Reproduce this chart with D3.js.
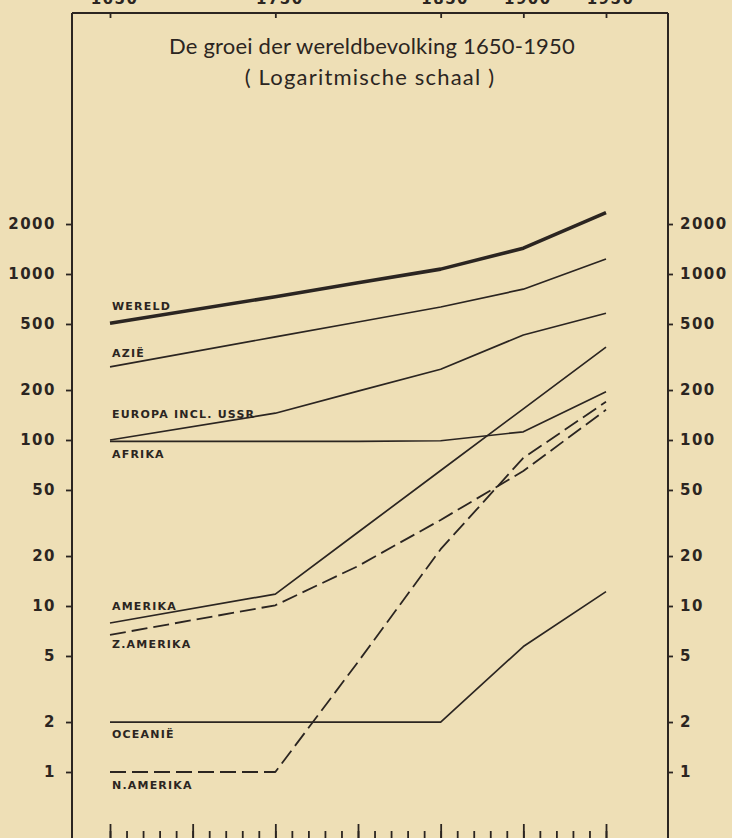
<!DOCTYPE html>
<html>
<head>
<meta charset="utf-8">
<script src="https://cdn.jsdelivr.net/npm/d3@7"></script>
<style>
  html, body { margin:0; padding:0; background:#eedfb6; }
  svg { display:block; }
</style>
</head>
<body>
<svg></svg>
<script>

// years where the lines bend
var years = [1650, 1750, 1800, 1850, 1900, 1950];

// population in millions
var wereld    = [505, 730, 885, 1070, 1430, 2340];
var azie      = [276, 418, 514, 633, 810, 1230];
var europa    = [100, 145, 197, 267, 429, 580];
var afrika    = [98, 98, 98, 99, 112, 195];
var amerika   = [7.9, 11.8, 27.8, 65.5, 154, 363];
var zAmerika  = [6.7, 10.1, 17.4, 33, 65, 152];
var oceanie   = [2, 2, 2, 2, 5.7, 12.2];
var nAmerika  = [1, 1, 4.6, 22, 78, 170];

var seriesNames = ["WERELD", "AZIË", "EUROPA INCL. USSR", "AFRIKA", "AMERIKA", "Z.AMERIKA", "OCEANIË", "N.AMERIKA"];
var seriesValues = [wereld, azie, europa, afrika, amerika, zAmerika, oceanie, nAmerika];

var yTicks = [1, 2, 5, 10, 20, 50, 100, 200, 500, 1000, 2000];
var topYears = [1650, 1750, 1850, 1900, 1950];

var title = "De groei der wereldbevolking 1650-1950";
var subtitle = "( Logaritmische schaal )";

// styling per series (not data)
var style = {
  "WERELD":            {w:3.6, dash:null,   dy:-13},
  "AZIË":              {w:1.7, dash:null,   dy:-10},
  "EUROPA INCL. USSR": {w:1.7, dash:null,   dy:-22},
  "AFRIKA":            {w:1.7, dash:null,   dy:17},
  "AMERIKA":           {w:1.7, dash:null,   dy:-13},
  "Z.AMERIKA":         {w:1.8, dash:"16,6", dy:13},
  "OCEANIË":           {w:1.7, dash:null,   dy:16},
  "N.AMERIKA":         {w:1.8, dash:"16,6", dy:17}
};

var ink = "#2b2521";
var svgwidth = 732;
var svgheight = 838;

var svg = d3.select("svg").attr("width", svgwidth).attr("height", svgheight);

var frame = {left:72, right:668, top:13, bottom:842};

var xScale = d3.scaleLinear()
               .domain([1650, 1950])
               .range([110, 606]);

var yScale = d3.scaleLog()
               .domain([1, 1000])
               .range([772, 274]);

// frame lines
svg.append("g").classed("frame", true)
   .selectAll("line")
   .data([
     [frame.left, frame.top, frame.right, frame.top],
     [frame.left, frame.top, frame.left, svgheight + 10],
     [frame.right, frame.top, frame.right, svgheight + 10],
     [frame.left, frame.bottom, frame.right, frame.bottom]
   ])
   .enter().append("line")
   .attr("x1", function(d){return d[0];})
   .attr("y1", function(d){return d[1];})
   .attr("x2", function(d){return d[2];})
   .attr("y2", function(d){return d[3];})
   .attr("stroke", ink)
   .attr("stroke-width", 2);

var tickFont = function(g){
  g.select(".domain").remove();
  g.selectAll("line").attr("stroke", ink).attr("stroke-width", 1.8);
  g.selectAll("text")
   .attr("fill", ink)
   .style("font-family", "'DejaVu Sans', sans-serif")
   .style("font-weight", "bold")
   .style("font-size", "15px")
   .style("letter-spacing", "1.5px");
};

// left axis
var yAxisLeft = d3.axisLeft(yScale)
                  .tickValues(yTicks)
                  .tickFormat(d3.format("d"))
                  .tickSize(6)
                  .tickPadding(10);
svg.append("g").classed("yLeft", true)
   .attr("transform", "translate(" + frame.left + ",0)")
   .call(yAxisLeft)
   .call(tickFont);

// right axis
var yAxisRight = d3.axisRight(yScale)
                   .tickValues(yTicks)
                   .tickFormat(d3.format("d"))
                   .tickSize(5)
                   .tickPadding(7);
svg.append("g").classed("yRight", true)
   .attr("transform", "translate(" + frame.right + ",0)")
   .call(yAxisRight)
   .call(tickFont);

// top axis, ticks pointing down into the box, labels cut off by the page edge
var xTop = d3.axisTop(xScale)
             .tickValues(topYears)
             .tickFormat(d3.format("d"))
             .tickSize(-5)
             .tickPadding(9);
svg.append("g").classed("xTop", true)
   .attr("transform", "translate(0," + frame.top + ")")
   .call(xTop)
   .call(tickFont);
svg.selectAll(".xTop text").attr("dx", 4);

// bottom axis: minor ticks every 10 years, major every 50
var xMinor = d3.axisTop(xScale)
               .tickValues(d3.range(1650, 1951, 10))
               .tickFormat("")
               .tickSize(11);
svg.append("g").classed("xMinor", true)
   .attr("transform", "translate(0," + frame.bottom + ")")
   .call(xMinor)
   .call(tickFont);

var xMajor = d3.axisTop(xScale)
               .tickValues(d3.range(1650, 1951, 50))
               .tickFormat("")
               .tickSize(18);
svg.append("g").classed("xMajor", true)
   .attr("transform", "translate(0," + frame.bottom + ")")
   .call(xMajor)
   .call(tickFont);

// title
svg.append("text")
   .attr("x", 372).attr("y", 54)
   .attr("text-anchor", "middle")
   .attr("fill", ink)
   .style("font-family", "Lato, sans-serif")
   .style("font-size", "22px")
   .style("letter-spacing", "0.2px")
   .text(title);

svg.append("text")
   .attr("x", 370).attr("y", 85)
   .attr("text-anchor", "middle")
   .attr("fill", ink)
   .style("font-family", "Lato, sans-serif")
   .style("font-size", "22px")
   .style("letter-spacing", "1.2px")
   .text(subtitle);

// lines
var series = seriesNames.map(function(name, i){
  return {
    name: name,
    points: years.map(function(yr, j){ return {year: yr, value: seriesValues[i][j]}; })
  };
});

var line = d3.line()
             .x(function(d){return xScale(d.year);})
             .y(function(d){return yScale(d.value);});

var plot = svg.append("g").classed("plot", true);

plot.selectAll("path.serie")
    .data(series)
    .enter()
    .append("path")
    .classed("serie", true)
    .attr("d", function(d){return line(d.points);})
    .attr("fill", "none")
    .attr("stroke", ink)
    .attr("stroke-width", function(d){return style[d.name].w;})
    .attr("stroke-dasharray", function(d){return style[d.name].dash;})
    .attr("stroke-linejoin", "round");

plot.selectAll("text.label")
    .data(series)
    .enter()
    .append("text")
    .classed("label", true)
    .attr("x", function(d){return xScale(d.points[0].year) + 2;})
    .attr("y", function(d){return yScale(d.points[0].value) + style[d.name].dy;})
    .attr("fill", ink)
    .style("font-family", "'DejaVu Sans', sans-serif")
    .style("font-weight", "bold")
    .style("font-size", "11px")
    .style("letter-spacing", "1.2px")
    .text(function(d){return d.name;});

</script>
</body>
</html>
